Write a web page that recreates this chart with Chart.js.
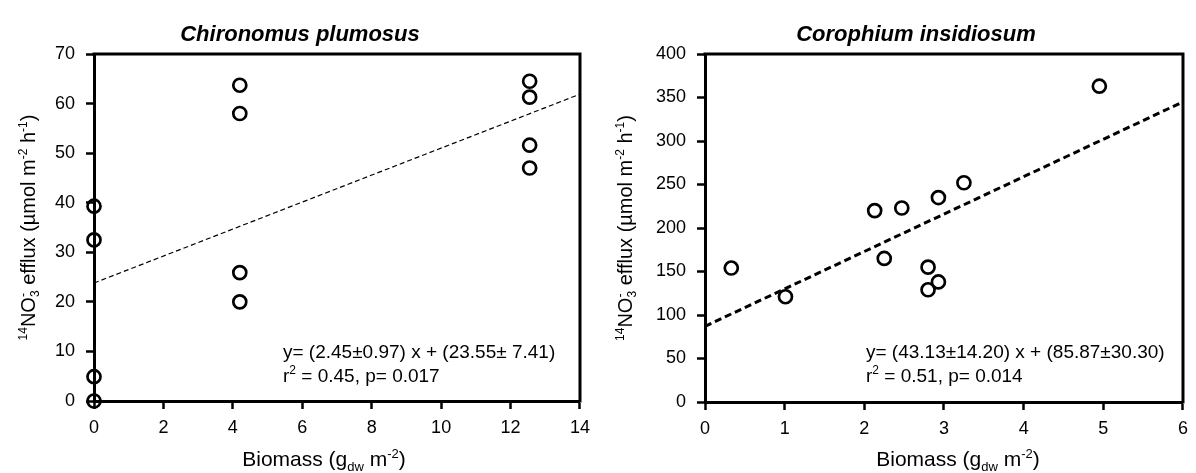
<!DOCTYPE html>
<html>
<head>
<meta charset="utf-8">
<script src="https://cdn.jsdelivr.net/npm/chart.js@4.4.0/dist/chart.umd.min.js"></script>
<style>
  body { margin: 0; background: #fff; }
  .wrap { width: 1196px; height: 473px; display: flex; }
  canvas { display: block; }
</style>
</head>
<body>
<div class="wrap">
  <canvas id="chiroChart" width="598" height="473"></canvas>
  <canvas id="coroChart" width="598" height="473"></canvas>
</div>
<script>
// Chironomus plumosus data
const chiroX = [0, 0, 0, 0, 4.2, 4.2, 4.2, 4.2, 12.55, 12.55, 12.55, 12.55];
const chiroY = [39.3, 32.5, 4.9, 0, 63.7, 58, 25.9, 20, 64.5, 61.3, 51.6, 47];
const chiroFitX = [0, 14];
const chiroFitY = [23.8, 61.9];
const chiroXTicks = [0, 2, 4, 6, 8, 10, 12, 14];
const chiroYTicks = [0, 10, 20, 30, 40, 50, 60, 70];

// Corophium insidiosum data
const coroX = [0.33, 1.01, 2.13, 2.25, 2.47, 2.8, 2.8, 2.93, 2.93, 3.25, 4.95];
const coroY = [154, 121, 220, 165, 223, 155, 129, 138, 235, 252, 363];
const coroFitX = [0, 6];
const coroFitY = [87, 345];
const coroXTicks = [0, 1, 2, 3, 4, 5, 6];
const coroYTicks = [0, 50, 100, 150, 200, 250, 300, 350, 400];

const FONT = "Arial, 'Liberation Sans', sans-serif";

const yTitle = [
    { t: '14', pos: 'sup' }, { t: 'NO' }, { sub: '3', sup: '-' },
    { t: ' efflux (\u00b5mol m' }, { t: '-2', pos: 'sup' }, { t: ' h' }, { t: '-1', pos: 'sup' }, { t: ')' }
];
const xTitle = [
    { t: 'Biomass (g' }, { t: 'dw', pos: 'sub' }, { t: ' m' }, { t: '-2', pos: 'sup' }, { t: ')' }
];

function toPoints(xs, ys) {
    return xs.map((x, i) => ({ x: x, y: ys[i] }));
}

// draws a line of text with super/subscripts
function drawRich(ctx, parts, x, y, size, align) {
    const small = Math.round(size * 0.62);
    let widths = parts.map(p => {
        if (p.sub !== undefined) {
            ctx.font = small + 'px ' + FONT;
            return Math.max(ctx.measureText(p.sub).width, ctx.measureText(p.sup).width);
        }
        ctx.font = (p.pos ? small : size) + 'px ' + FONT;
        return ctx.measureText(p.t).width;
    });
    const total = widths.reduce((a, b) => a + b, 0);
    let cx = align === 'left' ? x : x - total / 2;
    ctx.textAlign = 'left';
    ctx.textBaseline = 'alphabetic';
    ctx.fillStyle = '#000';
    parts.forEach((p, i) => {
        if (p.sub !== undefined) {
            ctx.font = small + 'px ' + FONT;
            ctx.fillText(p.sub, cx, y + size * 0.22);
            ctx.fillText(p.sup, cx, y - size * 0.4);
        } else if (p.pos === 'sup') {
            ctx.font = small + 'px ' + FONT;
            ctx.fillText(p.t, cx, y - size * 0.4);
        } else if (p.pos === 'sub') {
            ctx.font = small + 'px ' + FONT;
            ctx.fillText(p.t, cx, y + size * 0.22);
        } else {
            ctx.font = size + 'px ' + FONT;
            ctx.fillText(p.t, cx, y);
        }
        cx += widths[i];
    });
}

const decorPlugin = {
    id: 'decor',
    beforeDatasetsDraw(chart, args, opts) {
        const ctx = chart.ctx;
        const a = chart.chartArea;
        ctx.save();
        // top and right frame
        ctx.strokeStyle = '#000';
        ctx.lineWidth = 3;
        ctx.beginPath();
        ctx.moveTo(a.left - 1.5, a.top);
        ctx.lineTo(a.right, a.top);
        ctx.lineTo(a.right, a.bottom + 1.5);
        ctx.stroke();
        ctx.restore();
    },
    afterDraw(chart, args, opts) {
        const ctx = chart.ctx;
        const a = chart.chartArea;
        ctx.save();
        // title
        ctx.font = 'italic bold 22px ' + FONT;
        ctx.fillStyle = '#000';
        ctx.textAlign = 'center';
        ctx.textBaseline = 'alphabetic';
        ctx.fillText(opts.title, opts.titleX, 41);
        // axis titles
        drawRich(ctx, xTitle, opts.xTitleX, 466, 21, 'center');
        ctx.translate(opts.yTitleX, (a.top + a.bottom) / 2);
        ctx.rotate(-Math.PI / 2);
        drawRich(ctx, yTitle, 0, 7, 20, 'center');
        ctx.restore();
        // regression text
        ctx.save();
        drawRich(ctx, [{ t: opts.eq }], opts.eqX, 358, 19, 'left');
        drawRich(ctx, [{ t: 'r' }, { t: '2', pos: 'sup' }, { t: opts.stats }], opts.eqX, 382, 19, 'left');
        ctx.restore();
    }
};

function makeChart(id, cfg) {
    const tickFont = { family: FONT, size: 18 };
    new Chart(document.getElementById(id), {
        type: 'scatter',
        data: {
            datasets: [
                {
                    type: 'line',
                    data: toPoints(cfg.fitX, cfg.fitY),
                    borderColor: '#000',
                    borderWidth: cfg.fitWidth,
                    borderDash: cfg.fitDash,
                    pointRadius: 0,
                    fill: false
                },
                {
                    data: toPoints(cfg.xs, cfg.ys),
                    pointStyle: 'circle',
                    pointRadius: 6.5,
                    borderWidth: 2.7,
                    borderColor: '#000',
                    backgroundColor: 'rgba(0,0,0,0)',
                    clip: false
                }
            ]
        },
        options: {
            responsive: false,
            animation: false,
            layout: { padding: { top: cfg.top, right: cfg.right, left: 0, bottom: 0 } },
            plugins: {
                legend: { display: false },
                tooltip: { enabled: false },
                decor: cfg.decor
            },
            scales: {
                x: {
                    type: 'linear',
                    min: cfg.xTicks[0],
                    max: cfg.xTicks[cfg.xTicks.length - 1],
                    afterBuildTicks: s => { s.ticks = cfg.xTicks.map(v => ({ value: v })); },
                    afterFit: s => { s.height = cfg.xHeight; },
                    border: { display: true, color: '#000', width: 3 },
                    grid: { drawOnChartArea: false, drawTicks: true, tickLength: 8, tickWidth: 2.5, tickColor: '#000' },
                    ticks: { color: '#000', font: tickFont, padding: 8, maxRotation: 0 }
                },
                y: {
                    type: 'linear',
                    min: cfg.yTicks[0],
                    max: cfg.yTicks[cfg.yTicks.length - 1],
                    afterBuildTicks: s => { s.ticks = cfg.yTicks.map(v => ({ value: v })); },
                    afterFit: s => { s.width = cfg.yWidth; },
                    border: { display: true, color: '#000', width: 3 },
                    grid: { drawOnChartArea: false, drawTicks: true, tickLength: 8, tickWidth: 2.5, tickColor: '#000' },
                    ticks: { color: '#000', font: tickFont, padding: 11 }
                }
            }
        },
        plugins: [decorPlugin]
    });
}

makeChart('chiroChart', {
    xs: chiroX, ys: chiroY, fitX: chiroFitX, fitY: chiroFitY,
    xTicks: chiroXTicks, yTicks: chiroYTicks,
    fitWidth: 1.2, fitDash: [5, 3],
    top: 54, right: 16, yWidth: 94, xHeight: 72,
    decor: {
        title: 'Chironomus plumosus', titleX: 300, xTitleX: 324, yTitleX: 28, eqX: 283,
        eq: 'y= (2.45\u00b10.97) x + (23.55\u00b1 7.41)', stats: ' = 0.45, p= 0.017'
    }
});

makeChart('coroChart', {
    xs: coroX, ys: coroY, fitX: coroFitX, fitY: coroFitY,
    xTicks: coroXTicks, yTicks: coroYTicks,
    fitWidth: 3, fitDash: [7, 4],
    top: 54, right: 6, yWidth: 107, xHeight: 71,
    decor: {
        title: 'Corophium insidiosum', titleX: 318, xTitleX: 360, yTitleX: 27, eqX: 268,
        eq: 'y= (43.13\u00b114.20) x + (85.87\u00b130.30)', stats: ' = 0.51, p= 0.014'
    }
});
</script>
</body>
</html>
